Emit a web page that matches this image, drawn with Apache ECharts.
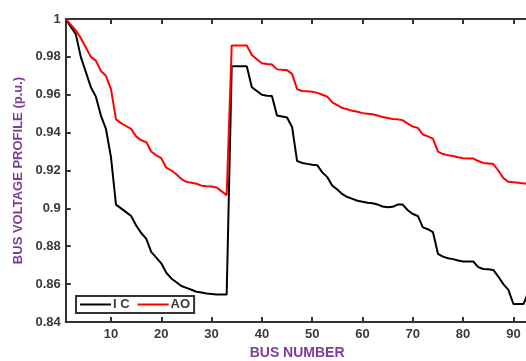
<!DOCTYPE html>
<html>
<head>
<meta charset="utf-8">
<script src="https://cdn.jsdelivr.net/npm/echarts@6/dist/echarts.min.js"></script>
<style>
  html, body { margin: 0; padding: 0; background: #fff; }
  #chart { width: 526px; height: 361px; }
</style>
</head>
<body>
<div id="chart"></div>
<script>
// bus voltage per bus (bus 1..93)
const icVolt = [
  1.000, 0.996, 0.992, 0.980, 0.972, 0.964, 0.959, 0.949, 0.942, 0.927,
  0.902, 0.900, 0.898, 0.896, 0.891, 0.887, 0.884, 0.877, 0.874, 0.871,
  0.866, 0.863, 0.861, 0.859, 0.858, 0.857, 0.856, 0.8556, 0.855, 0.8548,
  0.8545, 0.8545, 0.8545, 0.975, 0.975, 0.975, 0.975, 0.964, 0.962, 0.960,
  0.9595, 0.9593, 0.949, 0.9485, 0.948, 0.943, 0.925, 0.924, 0.9235, 0.923,
  0.9228, 0.919, 0.9165, 0.912, 0.910, 0.9075, 0.906, 0.905, 0.904, 0.9035,
  0.903, 0.9027, 0.902, 0.901, 0.9006, 0.9008, 0.902, 0.902, 0.899, 0.897,
  0.896, 0.890, 0.889, 0.8875, 0.876, 0.8745, 0.8737, 0.8732, 0.8725, 0.872,
  0.872, 0.872, 0.869, 0.868, 0.8678, 0.8675, 0.864, 0.860, 0.857, 0.8495,
  0.8495, 0.8495, 0.856
];
const aoVolt = [
  1.000, 0.997, 0.994, 0.990, 0.985, 0.980, 0.978, 0.9725, 0.970, 0.963,
  0.947, 0.945, 0.9435, 0.942, 0.938, 0.936, 0.935, 0.930, 0.928, 0.9265,
  0.9215, 0.920, 0.918, 0.9155, 0.914, 0.9135, 0.913, 0.912, 0.9117, 0.9115,
  0.911, 0.909, 0.907, 0.986, 0.986, 0.986, 0.986, 0.981, 0.9787, 0.9766,
  0.9762, 0.976, 0.9734, 0.9732, 0.973, 0.971, 0.963, 0.962, 0.9618, 0.9616,
  0.961, 0.960, 0.959, 0.956, 0.9545, 0.953, 0.9523, 0.9515, 0.951, 0.9503,
  0.950, 0.9497, 0.949, 0.9482, 0.9477, 0.9472, 0.947, 0.9465, 0.9448, 0.9432,
  0.9425, 0.939, 0.938, 0.9368, 0.930, 0.9287, 0.928, 0.9277, 0.927, 0.9265,
  0.9264, 0.9264, 0.925, 0.924, 0.9237, 0.9234, 0.920, 0.916, 0.914, 0.9138,
  0.9135, 0.9132, 0.9131
];
const xTicks = [10, 20, 30, 40, 50, 60, 70, 80, 90];

const axisColor = '#333';
const labelColor = '#3a3a3a';
const nameColor = '#7D3C98';
const toPairs = (vals) => vals.map((v, i) => [i + 1, v]);

const chart = echarts.init(document.getElementById('chart'));
chart.setOption({
  animation: false,
  textStyle: { fontFamily: 'Liberation Sans, Arial, sans-serif' },
  grid: { left: 65.7, right: -2.5, top: 19, bottom: 39, outerBoundsMode: 'none' },
  legend: {
    left: 76,
    top: 296,
    padding: [2, 4],
    itemGap: 8,
    itemWidth: 31,
    itemHeight: 10,
    borderColor: axisColor,
    borderWidth: 2,
    backgroundColor: '#fff',
    icon: 'path://M0,4L31,4L31,6L0,6Z',
    textStyle: { fontSize: 13, fontWeight: 'bold', color: labelColor, padding: [0, 0, 0, -3] },
    data: ['I C', 'AO'],
  },
  xAxis: [
    {
      type: 'value',
      min: 1,
      max: 93,
      name: 'BUS NUMBER',
      nameLocation: 'middle',
      nameGap: 24,
      nameTextStyle: { color: nameColor, fontSize: 14, fontWeight: 'bold' },
      axisLine: { onZero: false, lineStyle: { color: axisColor, width: 2 } },
      axisTick: { inside: true, length: 5, customValues: xTicks, lineStyle: { color: axisColor, width: 2 } },
      axisLabel: { customValues: xTicks, margin: 6, fontSize: 13, fontWeight: 'bold', color: labelColor },
      splitLine: { show: false },
    },
    {
      type: 'value',
      position: 'top',
      min: 1,
      max: 93,
      axisLine: { onZero: false, lineStyle: { color: axisColor, width: 2 } },
      axisTick: { inside: true, length: 5, customValues: xTicks, lineStyle: { color: axisColor, width: 2 } },
      axisLabel: { show: false },
      splitLine: { show: false },
    },
  ],
  yAxis: {
    type: 'value',
    min: 0.84,
    max: 1,
    interval: 0.02,
    name: 'BUS VOLTAGE PROFILE (p.u.)',
    nameLocation: 'middle',
    nameGap: 36,
    nameTextStyle: { color: nameColor, fontSize: 13, fontWeight: 'bold' },
    axisLine: { show: true, onZero: false, lineStyle: { color: axisColor, width: 2 } },
    axisTick: { show: true, inside: true, length: 5, lineStyle: { color: axisColor, width: 2 } },
    axisLabel: {
      margin: 5,
      fontSize: 13,
      fontWeight: 'bold',
      color: labelColor,
      formatter: (v) => String(parseFloat(v.toFixed(2))),
    },
    splitLine: { show: false },
  },
  series: [
    {
      name: 'I C',
      type: 'line',
      showSymbol: false,
      color: '#000',
      lineStyle: { width: 2, color: '#000' },
      data: toPairs(icVolt),
    },
    {
      name: 'AO',
      type: 'line',
      showSymbol: false,
      color: '#ff0000',
      lineStyle: { width: 2, color: '#ff0000' },
      data: toPairs(aoVolt),
    },
  ],
});
</script>
</body>
</html>
